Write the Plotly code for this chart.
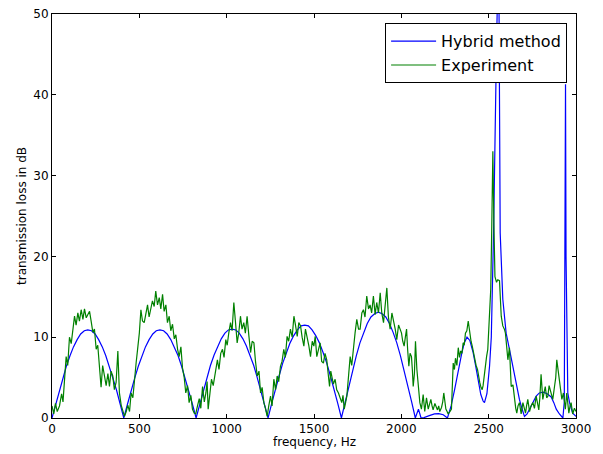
import plotly.graph_objects as go

# ---- Hybrid method (model) ----
freq_model = [
    0, 21, 41, 62, 82, 103, 123, 144, 164, 185, 205, 226, 247, 267, 288, 308, 329, 349, 370, 390,
    411, 432, 452, 473, 494, 514, 535, 556, 577, 597, 618, 639, 659, 680, 701, 722, 742, 763, 784, 804,
    825, 846, 866, 887, 907, 928, 949, 969, 990, 1010, 1031, 1052, 1072, 1093, 1113, 1134, 1155, 1175, 1196, 1216,
    1237, 1258, 1279, 1300, 1321, 1342, 1363, 1384, 1405, 1426, 1447, 1468, 1489, 1510, 1531, 1552, 1573, 1594, 1615, 1636,
    1657, 1678, 1700, 1721, 1742, 1763, 1784, 1805, 1826, 1847, 1868, 1890, 1911, 1932, 1953, 1974, 1995, 2016, 2037, 2059,
    2080, 2098, 2113, 2130, 2160, 2190, 2214, 2240, 2264,
    2285, 2305, 2325, 2345, 2360, 2376, 2392, 2410, 2425, 2440, 2455, 2468, 2476, 2490, 2505, 2515, 2528, 2543, 2557,
    2562, 2566, 2581, 2600, 2620, 2638, 2656, 2676, 2690, 2705, 2720, 2734, 2752, 2772, 2790, 2812, 2835, 2858, 2873,
    2887, 2905, 2925, 2933, 2937, 2940, 2943, 2948, 2953, 2963, 2981, 3000,
]
tl_model = [
    0, 1.7, 3.4, 4.9, 6.4, 7.7, 8.8, 9.7, 10.4, 10.8, 10.9, 10.8, 10.4, 9.7, 8.8, 7.7, 6.4, 4.9, 3.4, 1.7,
    0, 1.7, 3.4, 4.9, 6.4, 7.7, 8.8, 9.7, 10.4, 10.8, 10.9, 10.8, 10.4, 9.7, 8.8, 7.7, 6.4, 4.9, 3.4, 1.7,
    0, 1.7, 3.4, 5.0, 6.5, 7.8, 8.9, 9.8, 10.5, 10.9, 11.0, 10.9, 10.5, 9.8, 8.9, 7.8, 6.5, 5.0, 3.4, 1.7,
    0, 1.8, 3.6, 5.2, 6.8, 8.1, 9.3, 10.2, 10.9, 11.4, 11.5, 11.4, 10.9, 10.2, 9.3, 8.1, 6.8, 5.2, 3.6, 1.8,
    0, 2.0, 4.0, 5.9, 7.7, 9.3, 10.6, 11.7, 12.5, 12.9, 13.1, 12.9, 12.5, 11.7, 10.6, 9.3, 7.7, 5.9, 4.0, 2.0,
    0, 1.1, 0, 0.05, 0.3, 0.5, 0.55, 0.4, 0,
    1.5, 3.5, 5.8, 7.9, 9.3, 10.0, 9.6, 8.2, 6.5, 4.5, 2.9, 2.1, 1.9, 3.0, 6.4, 10.0, 22.9, 43.5, 60.0,
    39.4, 22.9, 14.7, 10.5, 8.4, 6.4, 4.3, 2.3, 1.2, 0.2, 0.5, 1.1, 2.0, 2.7, 3.1, 3.2, 3.0, 2.6, 1.9,
    1.1, 0.5, 0.0, 2.0, 20.0, 41.3, 20.0, 6.0, 3.1, 1.9, 0.6, 0.2,
]

# ---- Experiment ----
freq_exp = [
    0, 10, 20, 30, 43, 55, 63, 72, 81, 90, 100, 110, 120, 129, 138, 148, 157, 167, 177, 186,
    196, 205, 215, 224, 234, 243, 253, 262, 272, 281, 290, 300, 310, 320, 329, 338, 348, 357, 367, 377,
    386, 396, 405, 415, 425, 434, 444, 453, 463, 472, 482, 490, 500, 509, 518, 528, 537, 547, 556, 566,
    575, 585, 594, 604, 614, 623, 633, 642, 652, 661, 671, 680, 690, 700, 709, 719, 728, 738, 747, 757,
    766, 776, 785, 795, 804, 814, 823, 833, 843, 852, 862, 872, 881, 888, 894, 904, 913, 923, 932, 940,
    947, 956, 966, 976, 985, 995, 1003, 1012, 1022, 1031, 1041, 1050, 1060, 1069, 1079, 1088, 1098, 1107, 1117, 1127,
    1137, 1146, 1156, 1165, 1175, 1185, 1194, 1203, 1213, 1222, 1232, 1241, 1251, 1260, 1270, 1280, 1289, 1298, 1308, 1317,
    1327, 1336, 1346, 1355, 1365, 1375, 1385, 1394, 1404, 1413, 1423, 1432, 1442, 1451, 1461, 1470, 1480, 1490, 1499, 1507,
    1516, 1525, 1535, 1544, 1554, 1563, 1573, 1581, 1589, 1596, 1602, 1611, 1621, 1630, 1640, 1650, 1659, 1666, 1673, 1680,
    1688, 1697, 1707, 1716, 1726, 1735, 1745, 1755, 1764, 1774, 1783, 1792, 1802, 1812, 1821, 1830, 1840, 1850, 1859, 1869,
    1879, 1888, 1898, 1908, 1917, 1926, 1936, 1946, 1955, 1965, 1974, 1984, 1993, 2001, 2008, 2016, 2023, 2030, 2036, 2043,
    2050, 2058, 2063, 2068, 2075, 2081, 2089, 2097, 2106, 2115, 2125, 2134, 2144, 2154, 2162, 2169, 2176, 2182, 2192, 2200,
    2207, 2214, 2220, 2230, 2237, 2243, 2249, 2255, 2262, 2268, 2278, 2287, 2297, 2304, 2310, 2318, 2326, 2333, 2340, 2347,
    2354, 2360, 2367, 2375, 2383, 2388, 2392, 2399, 2406, 2413, 2420, 2428, 2436, 2443, 2449, 2456, 2463, 2468, 2474, 2481,
    2488, 2495, 2505, 2512, 2518, 2524, 2530, 2536, 2545, 2552, 2562, 2572, 2581, 2590, 2596, 2603, 2610, 2619, 2629, 2639,
    2648, 2655, 2661, 2668, 2676, 2686, 2696, 2703, 2711, 2717, 2724, 2734, 2743, 2753, 2762, 2772, 2780, 2787, 2793, 2800,
    2810, 2817, 2824, 2832, 2839, 2846, 2852, 2860, 2867, 2877, 2884, 2890, 2897, 2905, 2912, 2919, 2928, 2939, 2947, 2953,
    2959, 2966, 2972, 2981, 2991, 3000,
]
tl_exp = [
    1.5, 0.5, 1.8, 0.8, 1.5, 3.0, 2.0, 4.8, 7.6, 6.5, 10.0, 9.2, 11.0, 12.6, 11.5, 13.0, 12.0, 13.4, 12.2, 13.5,
    12.4, 12.8, 13.2, 12.0, 10.6, 11.0, 8.5, 9.0, 5.6, 3.8, 6.5, 5.2, 4.0, 5.5, 3.9, 5.8, 5.2, 3.5, 4.4, 8.3,
    3.1, 1.6, 1.0, 0.2, 0.8, 1.6, 0.8, 3.1, 2.5, 5.0, 6.9, 8.5, 10.5, 13.4, 12.0, 11.8, 13.0, 14.0, 12.5, 13.4,
    14.5, 13.8, 15.7, 14.0, 14.9, 13.5, 15.3, 13.2, 14.0, 11.8, 12.6, 10.8, 11.6, 9.8, 10.3, 8.5, 7.6, 8.8, 6.2, 5.0,
    3.1, 4.0, 1.9, 2.8, 1.1, 0.6, 0.5, 1.5, 2.4, 1.2, 3.9, 2.0, 3.1, 4.5, 1.1, 3.0, 4.8, 4.0, 5.2, 6.5,
    7.2, 6.0, 8.0, 8.5, 7.5, 9.7, 9.0, 10.5, 11.8, 10.8, 14.3, 12.0, 9.3, 10.5, 12.6, 11.0, 11.8, 10.5, 12.6, 10.2,
    8.1, 9.5, 9.3, 7.0, 5.2, 5.8, 3.1, 3.8, 1.9, 1.2, 0.2, 1.5, 2.7, 1.5, 4.8, 3.5, 5.2, 4.5, 6.4, 7.0,
    8.5, 7.5, 10.1, 9.5, 11.0, 10.0, 12.6, 11.5, 10.1, 11.8, 11.4, 10.0, 8.9, 11.0, 10.1, 9.0, 7.6, 9.5, 8.9, 10.1,
    7.6, 8.5, 9.3, 7.0, 6.8, 8.0, 7.2, 5.5, 3.9, 5.8, 5.2, 4.2, 4.8, 3.5, 3.1, 2.5, 1.9, 2.8, 1.1, 1.8,
    2.7, 5.0, 7.6, 6.5, 8.9, 10.5, 12.2, 11.0, 11.0, 13.0, 13.4, 12.5, 15.1, 13.5, 14.0, 13.0, 15.1, 12.8, 14.3, 13.0,
    15.5, 13.0, 11.8, 14.0, 16.1, 12.5, 11.0, 13.0, 12.2, 11.0, 9.7, 11.5, 11.0, 10.5, 9.5, 8.9, 10.0, 11.0, 8.5, 6.4,
    8.0, 7.6, 6.0, 3.9, 5.5, 9.5, 6.0, 3.5, 1.9, 1.1, 2.9, 0.8, 2.5, 1.1, 1.8, 2.3, 1.5, 1.0, 1.8, 1.2,
    1.0, 1.5, 0.8, 1.3, 2.0, 3.1, 2.0, 1.1, 0.8, 0.5, 0.8, 1.1, 6.8, 6.0, 7.4, 6.5, 8.7, 7.5, 8.3, 8.0,
    9.3, 9.0, 10.5, 10.8, 12.0, 11.0, 10.3, 9.5, 8.9, 8.0, 7.2, 6.5, 6.0, 5.0, 4.4, 3.8, 3.5, 4.0, 5.2, 6.5,
    7.6, 8.5, 13.0, 16.0, 24.0, 33.0, 24.0, 17.5, 16.8, 17.1, 17.0, 12.6, 11.4, 11.0, 10.5, 9.0, 7.2, 8.7, 3.9, 4.1,
    1.9, 1.2, 0.6, 1.5, 1.9, 0.5, 1.9, 1.2, 0.6, 1.5, 2.3, 0.8, 1.5, 1.9, 1.2, 2.7, 1.8, 1.0, 2.5, 5.4,
    2.3, 3.0, 3.9, 2.5, 2.7, 4.0, 3.5, 2.8, 2.3, 3.9, 5.0, 7.2, 6.0, 4.8, 3.5, 2.3, 3.1, 1.1, 3.1, 1.5,
    0.6, 1.5, 1.9, 0.5, 1.2, 0.8,
]

x_ticks = [0, 500, 1000, 1500, 2000, 2500, 3000]
y_ticks = [0, 10, 20, 30, 40, 50]

fig = go.Figure()
fig.add_trace(go.Scatter(x=freq_model, y=tl_model, mode="lines", name="Hybrid method",
                         line=dict(color="#0000ff", width=1.2)))
fig.add_trace(go.Scatter(x=freq_exp, y=tl_exp, mode="lines", name="Experiment",
                         line=dict(color="#008000", width=1.2)))

axis_common = dict(showgrid=False, zeroline=False, showline=True, linecolor="black", linewidth=1,
                   mirror="ticks", ticks="inside", ticklen=4, tickcolor="black", automargin=False,
                   ticklabeloverflow="allow", tickfont=dict(size=12, color="black"))

# the page body adds an 8px offset, so margins are shifted to keep the plot area in place
fig.update_layout(
    width=603, height=454,
    margin=dict(l=44, r=35, t=6, b=44, autoexpand=False),
    paper_bgcolor="white", plot_bgcolor="white",
    font=dict(family="DejaVu Sans", color="black", size=12),
    xaxis=dict(range=[0, 3000], tickvals=x_ticks, ticktext=[str(v) for v in x_ticks], **axis_common),
    yaxis=dict(range=[0, 50], tickvals=y_ticks, ticktext=[str(v) for v in y_ticks], **axis_common),
    legend=dict(x=0.983, y=0.977, xanchor="right", yanchor="top", bgcolor="white",
                bordercolor="black", borderwidth=1, font=dict(size=16), tracegroupgap=0,
                itemwidth=45),
    showlegend=True,
    annotations=[
        dict(text="frequency, Hz", xref="paper", yref="paper", x=0.5, y=0, yshift=-24,
             xanchor="center", yanchor="middle", showarrow=False, font=dict(size=12)),
        dict(text="transmission loss in dB", xref="paper", yref="paper", x=0, y=0.5, xshift=-30,
             xanchor="center", yanchor="middle", textangle=-90, showarrow=False, font=dict(size=12)),
    ],
)

fig.write_html("out.html")
